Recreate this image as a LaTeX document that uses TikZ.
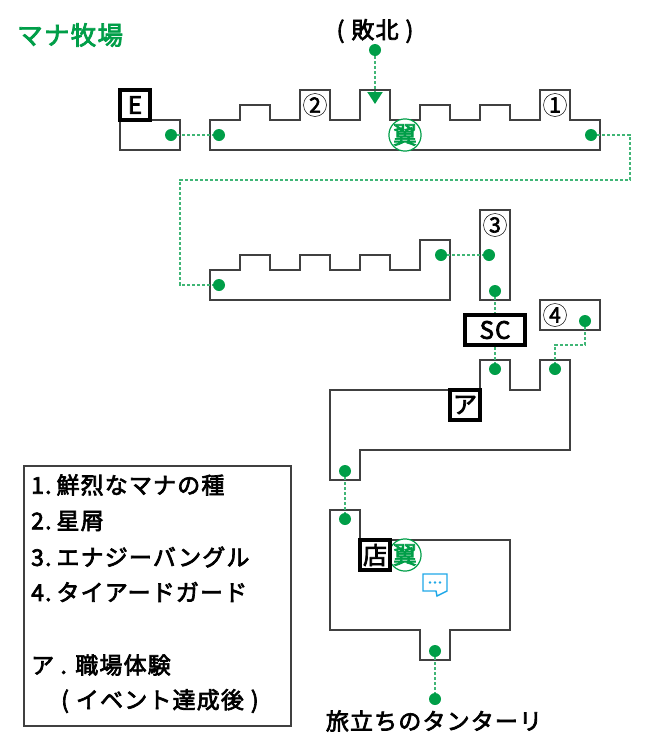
\documentclass[tikz,border=0pt]{standalone}
\usepackage{fontspec}
\usepackage{tikz,color}
\usetikzlibrary{arrows.meta}
\setmainfont{Noto Sans CJK JP}[LetterSpace=5,FakeBold=3]
\definecolor{farmgreen}{HTML}{009E48}
\definecolor{wallgray}{HTML}{404040}
\definecolor{chatblue}{HTML}{1FA8E8}
\tikzset{
  wall/.style={draw=wallgray,line width=1.8pt,line join=miter},
  spot/.style={circle,fill=farmgreen,inner sep=0pt,minimum size=12pt},
  trail/.style={draw=farmgreen!75,line width=2pt,dash pattern=on 3pt off 2pt},
  tagbox/.style={draw=black,line width=3.6pt,fill=white,inner sep=0pt,font=\fontsize{24}{24}\selectfont},
  itemmark/.style={circle,draw=black,line width=0.5pt,fill=white,inner sep=0pt,minimum size=23pt,font=\fontsize{21}{21}\selectfont},
  wingmark/.style={circle,draw=farmgreen,line width=1.2pt,fill=white,inner sep=0pt,minimum size=29.5pt,text=farmgreen,font=\fontsize{24}{24}\selectfont},
  listline/.style={anchor=west,inner sep=0pt,font=\fontsize{23}{23}\selectfont},
  caption/.style={inner sep=0pt,font=\fontsize{23}{23}\selectfont},
}
\begin{document}
\begin{tikzpicture}[x=1pt,y=-1pt]
\useasboundingbox (0,0) rectangle (660,750);

\node [anchor=west,inner sep=0pt,text=farmgreen,font=\fontsize{25.5}{25.5}\selectfont] (title) at (17,35) {マナ牧場};
\node [caption] (defeat) at (375,31) {(\hspace{7pt}敗北\hspace{7pt})};
\node [caption] (depart) at (434,721) {旅立ちのタンターリ};

% rooms
\draw [wall] (120,120) rectangle (180,150);
\draw [wall] (210,150) -- (210,120) -- (240,120) -- (240,105) -- (270,105) -- (270,120) -- (300,120) -- (300,90) -- (330,90) -- (330,120) -- (360,120) -- (360,90) -- (390,90) -- (390,120) -- (420,120) -- (420,105) -- (450,105) -- (450,120) -- (480,120) -- (480,105) -- (510,105) -- (510,120) -- (540,120) -- (540,90) -- (570,90) -- (570,120) -- (600,120) -- (600,150) -- cycle;
\draw [wall] (210,300) -- (210,270) -- (240,270) -- (240,255) -- (270,255) -- (270,270) -- (300,270) -- (300,255) -- (330,255) -- (330,270) -- (360,270) -- (360,255) -- (390,255) -- (390,270) -- (420,270) -- (420,240) -- (450,240) -- (450,300) -- cycle;
\draw [wall] (480,210) rectangle (510,300);
\draw [wall] (540,300) rectangle (600,330);
\draw [wall] (330,480) -- (330,390) -- (480,390) -- (480,360) -- (510,360) -- (510,390) -- (540,390) -- (540,360) -- (570,360) -- (570,450) -- (360,450) -- (360,480) -- cycle;
\draw [wall] (330,510) -- (360,510) -- (360,540) -- (510,540) -- (510,630) -- (450,630) -- (450,660) -- (420,660) -- (420,630) -- (330,630) -- cycle;

% spots
\node [spot] (entryEnd) at (171,135) {};
\node [spot] (longWest) at (219,135) {};
\node [spot] (longEast) at (591,135) {};
\node [spot] (defeatSpot) at (375,50) {};
\coordinate (defeatTip) at (375,104);
\node [spot] (lowerWest) at (219,285) {};
\node [spot] (lowerEast) at (441,255) {};
\node [spot] (towerMid) at (489,255) {};
\node [spot] (towerEnd) at (495,291) {};
\node [spot] (nookSpot) at (585,321) {};
\node [spot] (hallNorth) at (495,369) {};
\node [spot] (hallEast) at (555,369) {};
\node [spot] (hallSouth) at (345,471) {};
\node [spot] (shopNorth) at (345,519) {};
\node [spot] (shopSouth) at (435,651) {};
\node [spot] (departSpot) at (435,699) {};

% links
\coordinate (bendA) at (630,180);
\coordinate (bendB) at (180,180);
\coordinate (bendC) at (555,345);
\draw [trail] (entryEnd) -- (longWest);
\draw [trail,-{Triangle[width=15pt,length=12pt,color=farmgreen]}] (defeatSpot) -- (defeatTip);
\draw [trail] (longEast) -| (bendA) -- (bendB) |- (lowerWest);
\draw [trail] (lowerEast) -- (towerMid);
\draw [trail] (towerEnd) -- (hallNorth);
\draw [trail] (nookSpot) |- (bendC) -- (hallEast);
\draw [trail] (hallSouth) -- (shopNorth);
\draw [trail] (shopSouth) -- (departSpot);

% labels on the map
\node [tagbox,minimum width=30pt,minimum height=30pt] (entryTag) at (135,105) {E};
\node [tagbox,minimum width=60pt,minimum height=30pt] (saveTag) at (495,330) {SC};
\node [tagbox,minimum width=30pt,minimum height=30pt] (eventTag) at (465,405) {ア};
\node [itemmark] (itemOne) at (555,105) {1};
\node [itemmark] (itemTwo) at (315,105) {2};
\node [itemmark] (itemThree) at (495,225) {3};
\node [itemmark] (itemFour) at (555,315) {4};
\node [wingmark] (wingNorth) at (405,135) {翼};
\node [wingmark] (wingShop) at (405,555) {翼};
\node [tagbox,minimum width=30pt,minimum height=30pt] (shopTag) at (375,555) {店};

% chat icon
\draw [chatblue,line width=1.4pt,fill=white] (423,574) -- (447,574) -- (447,591) -- (437,596) -- (436,591) -- (423,591) -- cycle;
\fill [chatblue] (430,582.5) circle (1.4pt) (435,582.5) circle (1.4pt) (440,582.5) circle (1.4pt);

% item list
\draw [wall] (24,466) rectangle (291,726);
\node [listline] (listOne) at (31,485) {1.\hspace{5pt}鮮烈なマナの種};
\node [listline] (listTwo) at (31,521) {2.\hspace{5pt}星屑};
\node [listline] (listThree) at (31,557) {3.\hspace{5pt}エナジーバングル};
\node [listline] (listFour) at (31,592) {4.\hspace{5pt}タイアードガード};
\node [listline] (listEvent) at (31,665) {ア . 職場体験};
\node [listline] (listNote) at (61,701) {(\hspace{7pt}イベント達成後\hspace{7pt})};

\end{tikzpicture}
\end{document}
